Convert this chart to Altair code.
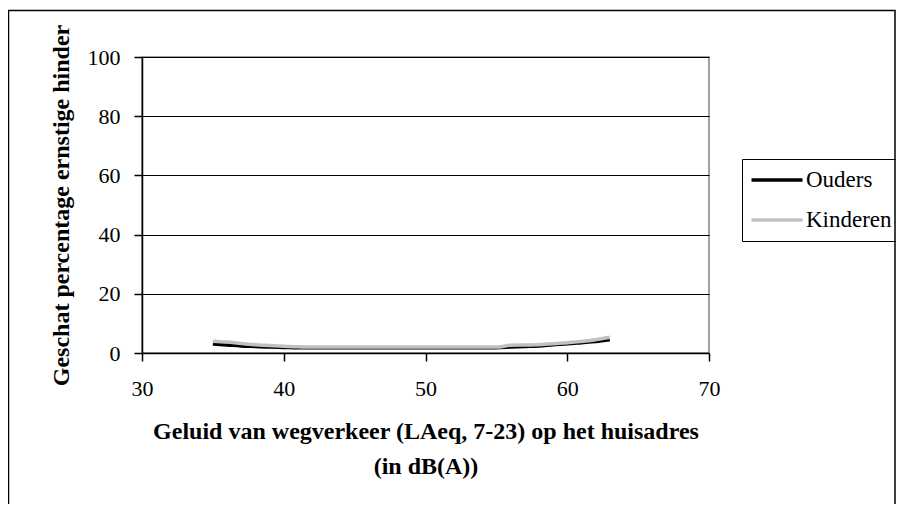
import altair as alt
import pandas as pd

x_vals = list(range(35, 64))
ouders = [3.0, 2.7, 2.4, 2.2, 2.0, 1.9, 1.8, 1.8, 1.8, 1.8, 1.8, 1.8, 1.8, 1.8, 1.8,
          1.8, 1.8, 1.8, 1.8, 1.8, 1.8, 2.0, 2.2, 2.4, 2.8, 3.1, 3.5, 3.9, 4.5]
kinderen = [4.0, 3.7, 3.2, 2.8, 2.5, 2.3, 2.1, 2.0, 2.0, 2.0, 2.0, 2.0, 2.0, 2.0, 2.0,
            2.0, 2.0, 2.0, 2.0, 2.0, 2.0, 2.6, 2.7, 2.8, 3.1, 3.5, 3.9, 4.5, 5.3]
series = ["Ouders", "Kinderen"]
colors = ["#000000", "#c0c0c0"]
x_ticks = [30, 40, 50, 60, 70]
y_ticks = [0, 20, 40, 60, 80, 100]

rows = []
for name, vals in zip(series, [ouders, kinderen]):
    for x, v in zip(x_vals, vals):
        rows.append({"x": x, "y": v, "reeks": name})
df = pd.DataFrame(rows)

FONT = "Liberation Serif"

lines = alt.Chart(df).mark_line(strokeWidth=3.5, interpolate="monotone").encode(
    x=alt.X("x:Q", scale=alt.Scale(domain=[30, 70], nice=False),
            axis=alt.Axis(values=x_ticks, grid=False, tickSize=8, labelFlush=False,
                          labelPadding=17,
                          title=["Geluid van wegverkeer (LAeq, 7-23) op het huisadres", "(in dB(A))"],
                          titlePadding=20)),
    y=alt.Y("y:Q", scale=alt.Scale(domain=[0, 100], nice=False),
            axis=alt.Axis(values=y_ticks, grid=True, tickSize=8,
                          labelPadding=14,
                          title="Geschat percentage ernstige hinder", titlePadding=14)),
    color=alt.Color("reeks:N", scale=alt.Scale(domain=series, range=colors),
                    legend=alt.Legend(title=None, orient="none", legendX=600, legendY=102,
                                      symbolType="M-2.55,0H2.55", symbolStrokeWidth=3.5,
                                      symbolSize=400, symbolOffset=14, rowPadding=16,
                                      labelFontSize=23, labelFont=FONT, labelLimit=300,
                                      labelColor="#000000",
                                      strokeColor="#000000", padding=9,
                                      labelOffset=17)),
    order=alt.Order("reeks_order:Q"),
).transform_calculate(reeks_order="datum.reeks == 'Ouders' ? 1 : 0")

frame = alt.Chart(pd.DataFrame({"k": [0]})).mark_rect(
    fill=None, stroke="#000000", strokeWidth=1.5
).encode(
    x=alt.value(-133.5), x2=alt.value(753),
    y=alt.value(-46.5), y2=alt.value(1000),
)

chart = alt.layer(frame, lines).properties(
    width=567, height=296,
    padding={"left": 134, "top": 49, "right": 187, "bottom": 151},
    autosize=alt.AutoSizeParams(type="none"),
    background="white",
).configure_view(
    stroke="#808080", strokeWidth=1.5
).configure_axis(
    labelFont=FONT, titleFont=FONT, labelFontSize=22, titleFontSize=24,
    titleFontWeight="bold", labelColor="#000000", titleColor="#000000",
    domainColor="#000000", tickColor="#000000", gridColor="#000000",
    gridWidth=1, domainWidth=1.5, tickWidth=1.5, gridOpacity=1,
    titleLineHeight=35,
)

chart.save("out.html", embed_options={"renderer": "svg", "actions": False})
